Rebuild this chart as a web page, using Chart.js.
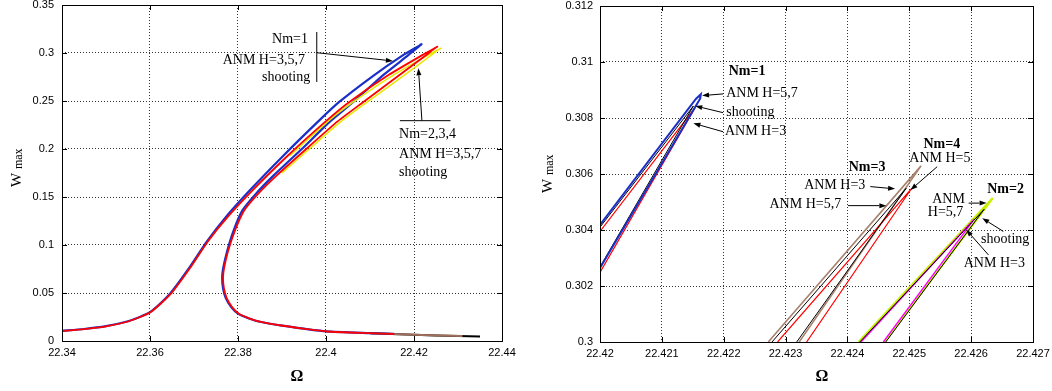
<!DOCTYPE html>
<html>
<head>
<meta charset="utf-8">
<script src="https://cdn.jsdelivr.net/npm/chart.js@4.4.1/dist/chart.umd.min.js"></script>
<style>
  body { margin: 0; background: #fff; }
  canvas { position: absolute; top: 0; }
  #left { left: 0; }
  #right { left: 530px; }
</style>
</head>
<body>
<canvas id="left" width="520" height="391"></canvas>
<canvas id="right" width="522" height="391"></canvas>
<script>
// ---------- left panel: full response curves ----------
const leftXTicks = [22.34, 22.36, 22.38, 22.4, 22.42, 22.44];
const leftYTicks = [0, 0.05, 0.1, 0.15, 0.2, 0.25, 0.3, 0.35];

// Nm=1 (upper branch -> tip -> unstable branch -> lower branch)
const nm1Omega = [22.340, 22.345, 22.350, 22.355, 22.360, 22.3645, 22.3691, 22.3729, 22.3774, 22.3827,
  22.3903, 22.3983, 22.4030, 22.4105, 22.4176, 22.4208, 22.4217,
  22.4200, 22.4187, 22.4130, 22.4062, 22.4010, 22.3945, 22.3880, 22.3840, 22.3810, 22.3790, 22.3775,
  22.3766, 22.3764, 22.3766, 22.3772, 22.3785, 22.3800, 22.3825, 22.3850, 22.3900, 22.3950, 22.4000,
  22.4100, 22.4155];
const nm1W = [0.0105, 0.0125, 0.0155, 0.0205, 0.0300, 0.0490, 0.0774, 0.1034, 0.1300, 0.1570,
  0.1930, 0.2290, 0.2490, 0.2755, 0.2980, 0.3065, 0.3092,
  0.3027, 0.2977, 0.2770, 0.2490, 0.2290, 0.2000, 0.1720, 0.1530, 0.1360, 0.1150, 0.0930,
  0.0750, 0.0650, 0.0550, 0.0450, 0.0350, 0.0285, 0.0235, 0.0200, 0.0160, 0.0128, 0.0100,
  0.0082, 0.0074];

// Nm=2,3,4 (red)
const nm234Omega = [22.340, 22.345, 22.350, 22.355, 22.3601, 22.3647, 22.3693, 22.3731, 22.3778, 22.3833,
  22.3913, 22.4000, 22.4053, 22.4142, 22.4227, 22.4245, 22.4253,
  22.4240, 22.4234, 22.4167, 22.4085, 22.4027, 22.3955, 22.3887, 22.3845, 22.3814, 22.3793, 22.3777,
  22.3768, 22.3766, 22.3768, 22.3774, 22.3787, 22.3802, 22.3827, 22.3852, 22.3902, 22.3952, 22.4002,
  22.4100, 22.4155];
const nm234W = [0.0103, 0.0123, 0.0153, 0.0203, 0.0300, 0.0490, 0.0774, 0.1034, 0.1300, 0.1570,
  0.1930, 0.2290, 0.2490, 0.2770, 0.3000, 0.3045, 0.3066,
  0.3025, 0.3000, 0.2770, 0.2490, 0.2290, 0.2000, 0.1720, 0.1530, 0.1360, 0.1150, 0.0930,
  0.0750, 0.0650, 0.0550, 0.0450, 0.0350, 0.0284, 0.0234, 0.0199, 0.0159, 0.0127, 0.0099,
  0.0081, 0.0073];

// Nm=2 ANM H=5,7 (yellow), visible near the top
const nm2Omega = [22.3918, 22.4005, 22.4062, 22.4153, 22.4240, 22.4256, 22.4262,
  22.4252, 22.4246, 22.4178, 22.4094, 22.4035, 22.3962, 22.3900];
const nm2W = [0.1930, 0.2290, 0.2490, 0.2770, 0.3000, 0.3038, 0.3050,
  0.3025, 0.3000, 0.2770, 0.2490, 0.2290, 0.2000, 0.1750];

// tail of the lower branch
const tailBrownOmega = [22.4100, 22.4200, 22.4310];
const tailBrownW = [0.0081, 0.0064, 0.0051];
const tailBlackOmega = [22.4100, 22.4200, 22.4300, 22.4350];
const tailBlackW = [0.0081, 0.0064, 0.0052, 0.0046];

// ---------- right panel: zoom on the tips ----------
const rightXTicks = [22.42, 22.421, 22.422, 22.423, 22.424, 22.425, 22.426, 22.427];
const rightYTicks = [0.3, 0.302, 0.304, 0.306, 0.308, 0.31, 0.312];

const zNm1BlueOmega = [22.4200, 22.42155, 22.42163, 22.42162, 22.4200];
const zNm1BlueW = [0.30418, 0.30868, 0.30885, 0.30870, 0.30264];
const zNm1BlackOmega = [22.4200, 22.42151, 22.4200];
const zNm1BlackW = [0.30410, 0.30843, 0.30268];
const zNm1RedOmega = [22.4200, 22.42154, 22.4200];
const zNm1RedW = [0.30395, 0.30838, 0.30248];

const zNm3BrownOmega = [22.42272, 22.42519, 22.42322];
const zNm3BrownW = [0.3, 0.30629, 0.3];
const zNm3BlackOmega = [22.42278, 22.42495, 22.42318];
const zNm3BlackW = [0.3, 0.30549, 0.3];
const zNm4RedOmega = [22.42287, 22.42504, 22.42334];
const zNm4RedW = [0.3, 0.30549, 0.3];

const zNm2YellowOmega = [22.42418, 22.42635, 22.42460];
const zNm2YellowW = [0.3, 0.30514, 0.3];
const zNm2BlackOmega = [22.42420, 22.42621, 22.42462];
const zNm2BlackW = [0.3, 0.30474, 0.3];
const zNm2MagentaOmega = [22.42422, 22.42605, 22.42458];
const zNm2MagentaW = [0.3, 0.30439, 0.3];

// ---------- annotations (data coordinates) ----------
const leftNotes = {
  texts: [
    { text: 'Nm=1', x: 22.3959, y: 0.3146, align: 'right' },
    { text: 'ANM H=3,5,7', x: 22.3952, y: 0.2920, align: 'right' },
    { text: 'shooting', x: 22.3964, y: 0.2747, align: 'right' },
    { text: 'Nm=2,3,4', x: 22.4166, y: 0.2156 },
    { text: 'ANM H=3,5,7', x: 22.4166, y: 0.1941 },
    { text: 'shooting', x: 22.4166, y: 0.1760 }
  ],
  lines: [
    [22.3979, 0.3219, 22.3979, 0.2698],
    [22.4168, 0.2295, 22.4283, 0.2295]
  ],
  arrows: [
    [22.3979, 0.3003, 22.4152, 0.2917],
    [22.4218, 0.2295, 22.4210, 0.2841]
  ],
  omegaAt: [297, 377],
  wAt: [21, 187]
};

const rightNotes = {
  texts: [
    { text: 'Nm=1', x: 22.42208, y: 0.30965, bold: true },
    { text: 'ANM H=5,7', x: 22.42204, y: 0.30888 },
    { text: 'shooting', x: 22.42204, y: 0.30819 },
    { text: 'ANM H=3', x: 22.42202, y: 0.30751 },
    { text: 'Nm=3', x: 22.42402, y: 0.30624, bold: true },
    { text: 'ANM H=3', x: 22.42330, y: 0.30561 },
    { text: 'ANM H=5,7', x: 22.42274, y: 0.30490 },
    { text: 'Nm=4', x: 22.42523, y: 0.30707, bold: true },
    { text: 'ANM H=5', x: 22.42500, y: 0.30655 },
    { text: 'Nm=2', x: 22.42626, y: 0.30546, bold: true },
    { text: 'ANM', x: 22.42537, y: 0.30511 },
    { text: 'H=5,7', x: 22.42530, y: 0.30464 },
    { text: 'shooting', x: 22.42616, y: 0.30367 },
    { text: 'ANM H=3', x: 22.42588, y: 0.30282 }
  ],
  lines: [],
  arrows: [
    [22.42199, 0.30886, 22.42165, 0.30880],
    [22.42199, 0.30819, 22.42154, 0.30843],
    [22.42199, 0.30751, 22.42151, 0.30781],
    [22.42437, 0.30555, 22.42477, 0.30547],
    [22.42401, 0.30487, 22.42463, 0.30487],
    [22.42545, 0.30626, 22.42502, 0.30543],
    [22.42596, 0.30496, 22.42625, 0.30496],
    [22.42652, 0.30395, 22.42618, 0.30442],
    [22.42628, 0.30311, 22.42592, 0.30401]
  ],
  omegaAt: [292, 377],
  wAt: [22, 193]
};

function pts(xs, ys) {
  return xs.map((x, i) => ({ x: x, y: ys[i] }));
}

function curve(xs, ys, color, width, order, tension) {
  return {
    data: pts(xs, ys),
    borderColor: color,
    borderWidth: width,
    showLine: true,
    pointRadius: 0,
    tension: tension,
    order: order
  };
}

function fmt(v) {
  return String(Number(v.toFixed(4)));
}

function drawArrow(ctx, x1, y1, x2, y2) {
  const ang = Math.atan2(y2 - y1, x2 - x1);
  const len = 7, half = 2.5;
  ctx.beginPath();
  ctx.moveTo(x1, y1);
  ctx.lineTo(x2 - Math.cos(ang) * len, y2 - Math.sin(ang) * len);
  ctx.stroke();
  ctx.beginPath();
  ctx.moveTo(x2, y2);
  ctx.lineTo(x2 - Math.cos(ang) * len - Math.sin(ang) * half, y2 - Math.sin(ang) * len + Math.cos(ang) * half);
  ctx.lineTo(x2 - Math.cos(ang) * len + Math.sin(ang) * half, y2 - Math.sin(ang) * len - Math.cos(ang) * half);
  ctx.closePath();
  ctx.fill();
}

// box around the plot, inward tick marks, notes and axis titles
function makeDecor(notes) {
  return {
    id: 'decor',
    afterDatasetsDraw(chart) {
      const { ctx, chartArea: a, scales: { x, y } } = chart;
      const px = v => x.getPixelForValue(v);
      const py = v => y.getPixelForValue(v);
      ctx.save();
      ctx.strokeStyle = '#000';
      ctx.fillStyle = '#000';
      ctx.lineWidth = 1;
      ctx.beginPath();
      x.ticks.forEach(t => {
        const p = Math.round(px(t.value)) + 0.5;
        ctx.moveTo(p, a.bottom); ctx.lineTo(p, a.bottom - 5);
        ctx.moveTo(p, a.top); ctx.lineTo(p, a.top + 5);
      });
      y.ticks.forEach(t => {
        const p = Math.round(py(t.value)) + 0.5;
        ctx.moveTo(a.left, p); ctx.lineTo(a.left + 5, p);
        ctx.moveTo(a.right, p); ctx.lineTo(a.right - 5, p);
      });
      ctx.stroke();
      ctx.strokeRect(Math.round(a.left) + 0.5, Math.round(a.top) + 0.5,
        Math.round(a.right - a.left), Math.round(a.bottom - a.top));

      notes.lines.forEach(l => {
        ctx.beginPath();
        ctx.moveTo(px(l[0]), py(l[1]));
        ctx.lineTo(px(l[2]), py(l[3]));
        ctx.stroke();
      });
      notes.arrows.forEach(r => drawArrow(ctx, px(r[0]), py(r[1]), px(r[2]), py(r[3])));

      ctx.textBaseline = 'middle';
      notes.texts.forEach(t => {
        ctx.font = (t.bold ? 'bold ' : '') + '14px "Liberation Serif"';
        ctx.textAlign = t.align || 'left';
        ctx.fillText(t.text, px(t.x), py(t.y));
      });

      // x title
      ctx.font = 'bold 16px "Liberation Serif"';
      ctx.textAlign = 'center';
      ctx.fillText('Ω', notes.omegaAt[0], notes.omegaAt[1]);

      // y title, rotated, with subscript
      ctx.translate(notes.wAt[0], notes.wAt[1]);
      ctx.rotate(-Math.PI / 2);
      ctx.textAlign = 'left';
      ctx.textBaseline = 'alphabetic';
      ctx.font = '15px "Liberation Serif"';
      ctx.fillText('W', 0, 0);
      const w = ctx.measureText('W ').width;
      ctx.font = '12px "Liberation Serif"';
      ctx.fillText('max', w, 1);
      ctx.restore();
    }
  };
}

function makeChart(id, datasets, xr, yr, xTicks, yTicks, box, notes) {
  const ctx = document.getElementById(id).getContext('2d');
  return new Chart(ctx, {
    type: 'scatter',
    data: { datasets: datasets },
    options: {
      responsive: false,
      animation: false,
      events: [],
      layout: { padding: { top: box.top, right: box.right, left: 0, bottom: 0 } },
      plugins: { legend: { display: false }, tooltip: { enabled: false } },
      scales: {
        x: {
          type: 'linear',
          min: xr[0], max: xr[1],
          afterBuildTicks: s => { s.ticks = xTicks.map(v => ({ value: v })); },
          afterFit: s => { s.height = box.xh; s.paddingLeft = 0; s.paddingRight = 0; },
          grid: { color: '#333', lineWidth: 1, drawTicks: false },
          border: { display: false, dash: [1, 2] },
          ticks: { color: '#000', padding: 5, maxRotation: 0, autoSkip: false,
            font: { family: '"Liberation Sans"', size: 11 }, callback: fmt }
        },
        y: {
          type: 'linear',
          min: yr[0], max: yr[1],
          afterBuildTicks: s => { s.ticks = yTicks.map(v => ({ value: v })); },
          afterFit: s => { s.width = box.yw; s.paddingTop = 0; s.paddingBottom = 0; },
          grid: { color: '#333', lineWidth: 1, drawTicks: false },
          border: { display: false, dash: [1, 2] },
          ticks: { color: '#000', padding: box.ypad, autoSkip: false,
            font: { family: '"Liberation Sans"', size: 11 }, callback: fmt }
        }
      }
    },
    plugins: [makeDecor(notes)]
  });
}

makeChart('left', [
  curve(nm234Omega, nm234W, '#ff0000', 1.8, 1, 0.2),
  curve(nm2Omega, nm2W, '#e8e800', 1.5, 2, 0.2),
  curve(nm1Omega, nm1W, '#1a2fc8', 2.2, 3, 0.2),
  curve(tailBrownOmega, tailBrownW, '#a06f5c', 2, 4, 0.2),
  curve(tailBlackOmega, tailBlackW, '#000000', 2, 5, 0.2)
], [22.34, 22.44], [0, 0.35], leftXTicks, leftYTicks,
  { top: 5, right: 18, xh: 50, yw: 62, ypad: 8 }, leftNotes);

makeChart('right', [
  curve(zNm1BlueOmega, zNm1BlueW, '#1a2fc8', 2, 1, 0),
  curve(zNm1BlackOmega, zNm1BlackW, '#000000', 1, 2, 0),
  curve(zNm1RedOmega, zNm1RedW, '#ff0000', 1.2, 3, 0),
  curve(zNm3BlackOmega, zNm3BlackW, '#000000', 1, 4, 0),
  curve(zNm4RedOmega, zNm4RedW, '#ff0000', 1.2, 5, 0),
  curve(zNm3BrownOmega, zNm3BrownW, '#a8836f', 1.6, 6, 0),
  curve(zNm2BlackOmega, zNm2BlackW, '#000000', 1, 7, 0),
  curve(zNm2MagentaOmega, zNm2MagentaW, '#ff00ff', 1.4, 8, 0),
  curve(zNm2YellowOmega, zNm2YellowW, '#c8f000', 2.2, 9, 0)
], [22.42, 22.427], [0.3, 0.312], rightXTicks, rightYTicks,
  { top: 6, right: 19, xh: 49, yw: 70, ypad: 7 }, rightNotes);
</script>
</body>
</html>
